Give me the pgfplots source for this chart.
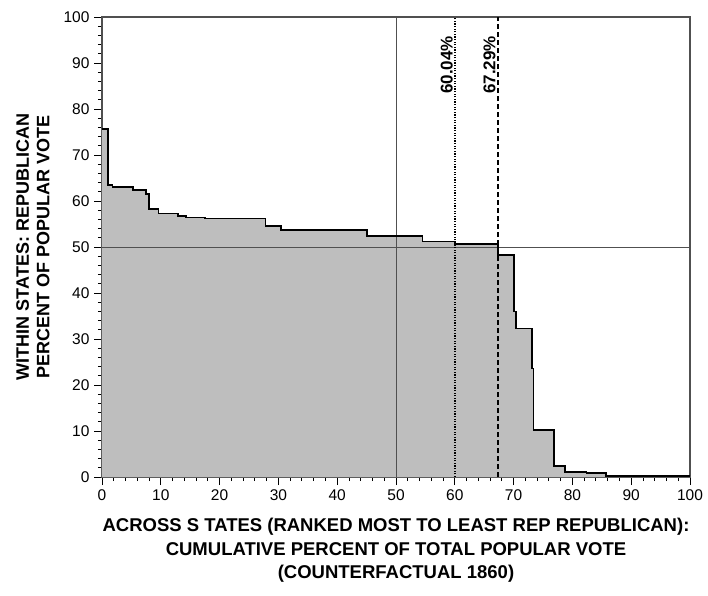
\documentclass[border=0pt]{standalone}
\usepackage{pgfplots}
\pgfplotsset{compat=1.18}
\usepackage{fontspec}
\setmainfont{Liberation Sans}
\definecolor{areagray}{RGB}{190,190,190}
\definecolor{framegray}{RGB}{80,80,80}
\begin{document}
\begin{tikzpicture}
\begin{axis}[
  scale only axis, width=588pt, height=460pt,
  at={(0,0)}, anchor=south west,
  xmin=0, xmax=100, ymin=0, ymax=100,
  xtick={0,10,20,30,40,50,60,70,80,90,100},
  ytick={0,10,20,30,40,50,60,70,80,90,100},
  xticklabels={0,10,20,30,40,50,60,70,80,90,100},
  yticklabels={0,10,20,30,40,50,60,70,80,90,100},
  minor tick num=4,
  xtick pos=bottom, ytick pos=left,
  tick align=outside,
  major tick length=8pt, minor tick length=4pt,
  axis line style={framegray, line width=1.1pt},
  every tick/.style={black, line width=0.9pt},
  xticklabel style={font=\fontsize{15.5}{18}\selectfont, yshift=-1pt},
  yticklabel style={font=\fontsize{15.5}{18}\selectfont, xshift=-1pt},
  xlabel={ACROSS S TATES (RANKED MOST TO LEAST REP REPUBLICAN):\\CUMULATIVE PERCENT OF TOTAL POPULAR VOTE\\(COUNTERFACTUAL 1860)},
  ylabel={WITHIN STATES: REPUBLICAN\\PERCENT OF POPULAR VOTE},
  xlabel style={at={(axis description cs:0.5,-0.082)}, anchor=north, align=center, font=\bfseries\fontsize{18.5}{23.5}\selectfont},
  ylabel style={at={(axis description cs:-0.083,0.5)}, anchor=south, align=center, font=\bfseries\fontsize{18}{20.5}\selectfont},
  clip=false,
]
\addplot[const plot mark left, fill=areagray, draw=none] coordinates {
(0,75.6) (1.0,63.5) (1.8,63.1) (5.3,62.4) (7.5,61.5) (8.0,58.2) (9.6,57.3)
(12.9,56.8) (14.3,56.4) (17.5,56.2) (27.8,54.5) (30.5,53.7) (45.0,52.4)
(54.5,51.2) (60.1,50.6) (67.29,48.2) (70.1,36.0) (70.4,32.3) (73.1,23.6)
(73.4,10.2) (76.9,2.4) (78.8,1.1) (82.4,0.9) (85.7,0.2) (100,0.2)
} \closedcycle;
\addplot[framegray, line width=0.8pt] coordinates {(0,50) (100,50)};
\addplot[framegray, line width=0.8pt] coordinates {(50,0) (50,100)};
\addplot[const plot mark left, black, line width=1.8pt] coordinates {
(0,75.6) (1.0,63.5) (1.8,63.1) (5.3,62.4) (7.5,61.5) (8.0,58.2) (9.6,57.3)
(12.9,56.8) (14.3,56.4) (17.5,56.2) (27.8,54.5) (30.5,53.7) (45.0,52.4)
(54.5,51.2) (60.1,50.6) (67.29,48.2) (70.1,36.0) (70.4,32.3) (73.1,23.6)
(73.4,10.2) (76.9,2.4) (78.8,1.1) (82.4,0.9) (85.7,0.2) (100,0.2)
};
\addplot[black, line width=1.8pt, dash pattern=on 1.3pt off 1.3pt] coordinates {(60.04,0) (60.04,100)};
\addplot[black, line width=1.8pt, dash pattern=on 5pt off 3pt] coordinates {(67.29,0) (67.29,100)};
\node[rotate=90, anchor=south, inner sep=2pt] at (axis cs:60.04,89.6) {\fontsize{17}{18}\selectfont\bfseries 60.04\%};
\node[rotate=90, anchor=south, inner sep=2pt] at (axis cs:67.29,89.6) {\fontsize{17}{18}\selectfont\bfseries 67.29\%};
\end{axis}
\pgfresetboundingbox
\path (-102pt,-118pt) rectangle (606pt,477pt);
\end{tikzpicture}
\end{document}
